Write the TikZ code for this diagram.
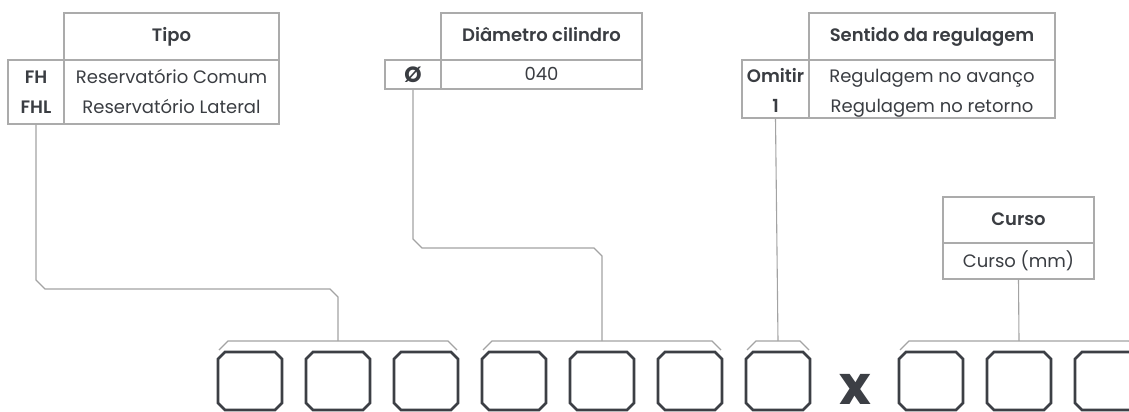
\documentclass[tikz,border=0pt]{standalone}
\usepackage{fontspec}
\setmainfont{Poppins}[BoldFont={Poppins SemiBold}]
\newfontfamily\heavyfont{Poppins Bold}
\usetikzlibrary{calc}
\definecolor{ink}{HTML}{3A3D42}
\definecolor{rule}{HTML}{ABABAB}
\definecolor{wire}{HTML}{A3A3A3}
\definecolor{slotc}{HTML}{3C3F45}
\tikzset{
  cell/.style={draw=rule, line width=1.1pt, inner sep=0pt},
  txt/.style={inner sep=0pt, anchor=base, text=ink, font=\fontsize{18}{21}\selectfont},
  btxt/.style={txt, font=\fontsize{18}{21}\selectfont\bfseries},
  conn/.style={draw=wire, line width=1.1pt},
  slotbox/.style={minimum width=64pt, minimum height=58pt, inner sep=0pt, outer sep=0pt},
  slotline/.style={draw=slotc, line width=2.6pt, line join=miter},
}
\newcommand\mkslot[2]{%
  \node[slotbox] (#1) at (#2+32,381) {};
  \draw[slotline] ($(#1.north west)+(7,0)$) -- ($(#1.north east)+(-7,0)$) -- ($(#1.north east)+(0,7)$)
    -- ($(#1.south east)+(0,-7)$) -- ($(#1.south east)+(-7,0)$) -- ($(#1.south west)+(7,0)$)
    -- ($(#1.south west)+(0,-7)$) -- ($(#1.north west)+(0,7)$) -- cycle;
}
\newcommand\mkbracket[3]{% name, left, right
  \coordinate (#1) at ({(#2+#3)/2},341);
  \draw[conn] (#2+1,350) -- (#2+10,341) -- (#3-10,341) -- (#3-1,350);
}
\begin{document}
\begin{tikzpicture}[x=1pt,y=-1pt]
\useasboundingbox (0,0) rectangle (1129,412);
\clip (0,0) rectangle (1129,412);

% ---- Table 1: Tipo
\node[cell, minimum width=215pt, minimum height=47pt] (t1h) at (171.5,36.5) {};
\node[cell, minimum width=56pt, minimum height=64pt] (t1l) at (36,92) {};
\node[cell, minimum width=215pt, minimum height=64pt] (t1r) at (171.5,92) {};
\node[btxt] (t1t) at (171.5,42) {Tipo};
\node[btxt] (t1a) at (36,83) {FH};
\node[btxt] (t1b) at (36,113) {FHL};
\node[txt] (t1c) at (171.5,83) {Reservatório Comum};
\node[txt] (t1d) at (171.5,113) {Reservatório Lateral};

% ---- Table 2: Diametro
\node[cell, minimum width=201pt, minimum height=47pt] (t2h) at (541.5,36.5) {};
\node[cell, minimum width=56pt, minimum height=29pt] (t2l) at (413,74.5) {};
\node[cell, minimum width=201pt, minimum height=29pt] (t2r) at (541.5,74.5) {};
\node[btxt] (t2t) at (541.5,42) {Diâmetro cilindro};
\node[txt, font=\fontsize{22}{24}\heavyfont] (t2a) at (413,82) {Ø};
\node[txt] (t2b) at (541.5,81) {040};

% ---- Table 3: Sentido
\node[cell, minimum width=246pt, minimum height=47pt] (t3h) at (932,36.5) {};
\node[cell, minimum width=67pt, minimum height=58pt] (t3l) at (775.5,89) {};
\node[cell, minimum width=246pt, minimum height=58pt] (t3r) at (932,89) {};
\node[btxt] (t3t) at (932,42) {Sentido da regulagem};
\node[btxt] (t3a) at (775.5,82) {Omitir};
\node[btxt] (t3b) at (775.5,112) {1};
\node[txt] (t3c) at (932,82) {Regulagem no avanço};
\node[txt] (t3d) at (932,112) {Regulagem no retorno};

% ---- Table 4: Curso
\node[cell, minimum width=151pt, minimum height=46pt] (t4h) at (1018.5,220) {};
\node[cell, minimum width=151pt, minimum height=36pt] (t4r) at (1018.5,261) {};
\node[btxt] (t4t) at (1018.5,225) {Curso};
\node[txt] (t4b) at (1018.5,267) {Curso (mm)};

% ---- slots
\mkslot{s1}{218}
\mkslot{s2}{306}
\mkslot{s3}{394}
\mkslot{s4}{482}
\mkslot{s5}{570}
\mkslot{s6}{658}
\mkslot{s7}{746}
\mkslot{s8}{899}
\mkslot{s9}{987}
\mkslot{s10}{1075}
\node[inner sep=0pt, anchor=base, text=slotc, font=\fontsize{54}{54}\heavyfont] (xs) at (855,404) {x};

% ---- brackets
\mkbracket{b1}{218}{458}
\mkbracket{b2}{482}{722}
\mkbracket{b3}{746}{810}
\mkbracket{b4}{899}{1139}

% ---- connectors
\draw[conn] (t1l.south) -- (36,280) -- (45,289) -- (330,289) -- (338,297) -- (b1);
\draw[conn] (t2l.south) -- (413,239) -- (422,248) -- (594,248) -- (602,256) -- (b2);
\draw[conn] (t3l.south) -- (b3);
\draw[conn] (t4r.south) -- (b4);
\end{tikzpicture}
\end{document}
